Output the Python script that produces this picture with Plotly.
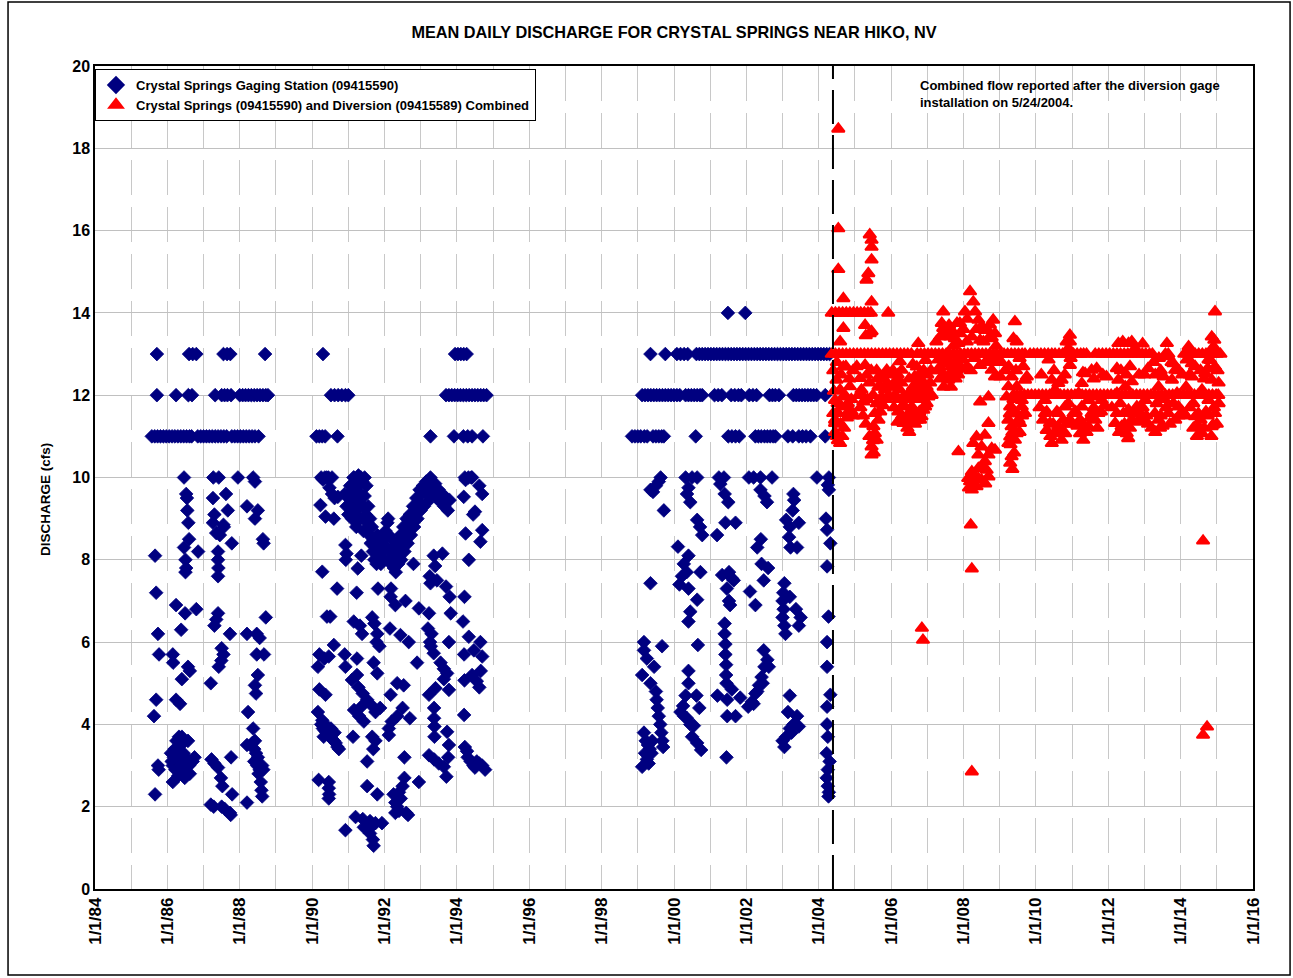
import plotly.graph_objects as go

# ---------------------------------------------------------------------------
# Crystal Springs Gaging Station (09415590) -- decimal year, mean daily cfs
# Days that sat on a steady whole-number discharge are grouped by value.
# ---------------------------------------------------------------------------
gage_at_14 = [2001.49, 2001.97]

gage_at_13 = [1985.71, 1986.60, 1986.70, 1986.80, 1987.55, 1987.65, 1987.74,
              1988.70, 1990.30, 1993.95, 1994.03, 1994.11, 1994.19, 1994.27,
              1999.35, 1999.76, 2000.08, 2000.18, 2000.28, 2000.38, 2000.62,
              2000.70, 2000.78, 2000.86, 2000.94, 2001.02, 2001.10, 2001.18,
              2001.26, 2001.34, 2001.42, 2001.50, 2001.58, 2001.66, 2001.74,
              2001.82, 2001.90, 2001.98, 2002.06, 2002.14, 2002.22, 2002.30,
              2002.38, 2002.46, 2002.54, 2002.62, 2002.70, 2002.78, 2002.86,
              2002.94, 2003.02, 2003.10, 2003.18, 2003.26, 2003.34, 2003.42,
              2003.50, 2003.58, 2003.66, 2003.74, 2003.82, 2003.90, 2003.98,
              2004.06, 2004.14, 2004.22, 2004.30]

gage_at_12 = [1985.71, 1986.24, 1986.58, 1986.68, 1987.32, 1987.50, 1987.58,
              1987.66, 1987.76, 1988.00, 1988.08, 1988.16, 1988.24, 1988.32,
              1988.40, 1988.48, 1988.56, 1988.64, 1988.72, 1988.78, 1990.52,
              1990.62, 1990.72, 1990.82, 1990.92, 1991.00, 1993.70, 1993.78,
              1993.86, 1993.94, 1994.02, 1994.10, 1994.18, 1994.26, 1994.34,
              1994.42, 1994.50, 1994.58, 1994.66, 1994.74, 1994.82, 1999.12,
              1999.20, 1999.28, 1999.36, 1999.44, 1999.52, 1999.60, 1999.68,
              1999.76, 1999.84, 1999.92, 2000.00, 2000.08, 2000.16, 2000.32,
              2000.40, 2000.48, 2000.56, 2000.64, 2000.72, 2000.78, 2001.12,
              2001.22, 2001.32, 2001.58, 2001.68, 2001.78, 2001.86, 2002.08,
              2002.18, 2002.28, 2002.64, 2002.72, 2002.80, 2002.90, 2003.30,
              2003.38, 2003.46, 2003.54, 2003.62, 2003.70, 2003.78, 2003.86,
              2003.94, 2004.18]

gage_at_11 = [1985.57, 1985.65, 1985.73, 1985.81, 1985.89, 1985.97, 1986.05,
              1986.13, 1986.21, 1986.29, 1986.37, 1986.45, 1986.53, 1986.61,
              1986.67, 1986.84, 1986.92, 1987.00, 1987.08, 1987.16, 1987.24,
              1987.32, 1987.40, 1987.48, 1987.56, 1987.64, 1987.78, 1987.86,
              1987.94, 1988.02, 1988.10, 1988.18, 1988.26, 1988.34, 1988.42,
              1988.52, 1990.12, 1990.20, 1990.28, 1990.36, 1990.70, 1993.27,
              1993.92, 1994.18, 1994.30, 1994.42, 1994.72, 1998.84, 1998.92,
              1999.00, 1999.08, 1999.18, 1999.26, 1999.42, 1999.50, 1999.58,
              1999.66, 1999.72, 2000.60, 2001.50, 2001.60, 2001.70, 2001.80,
              2002.25, 2002.33, 2002.41, 2002.50, 2002.58, 2002.66, 2002.74,
              2002.80, 2003.15, 2003.28, 2003.45, 2003.55, 2003.65, 2003.77,
              2004.18]

gage_at_10 = [1986.46, 1987.27, 1987.42, 1987.95, 1988.37, 1990.25, 1990.35,
              1990.45, 1990.55, 1991.15, 1991.25, 1991.35, 1991.45, 1993.27,
              1994.22, 1994.32, 1994.42, 1999.63, 2000.32, 2000.50, 2000.64,
              2001.24, 2001.38, 2002.07, 2002.20, 2002.39, 2002.71, 2003.95,
              2004.28]

# Remaining gage days as (decimal year, cfs)
gage_1985_1988 = [
    (1985.66, 8.1), (1985.69, 7.2), (1985.74, 6.2), (1985.77, 5.7), (1985.69, 4.6),
    (1985.63, 4.2), (1985.74, 3.0), (1985.76, 2.9), (1985.66, 2.3),
    (1986.52, 9.6), (1986.54, 9.5), (1986.55, 9.2), (1986.58, 8.9), (1986.60, 8.5),
    (1986.46, 8.3), (1986.50, 8.0), (1986.52, 7.8), (1986.50, 7.7), (1986.85, 8.2),
    (1986.24, 6.9), (1986.49, 6.7), (1986.80, 6.8), (1986.38, 6.3), (1986.15, 5.7),
    (1986.16, 5.5), (1986.57, 5.4), (1986.62, 5.3), (1986.40, 5.1), (1986.24, 4.6),
    (1986.35, 4.5), (1986.10, 3.3), (1986.12, 3.1), (1986.20, 3.4), (1986.25, 3.6),
    (1986.32, 3.7), (1986.38, 3.5), (1986.45, 3.3), (1986.50, 3.2), (1986.55, 3.1),
    (1986.60, 3.0), (1986.45, 2.9), (1986.38, 2.8), (1986.30, 2.75), (1986.22, 2.9),
    (1986.15, 3.0), (1986.28, 3.1), (1986.40, 3.0), (1986.35, 3.3), (1986.18, 3.2),
    (1986.48, 2.7), (1986.62, 2.8), (1986.70, 3.1), (1986.75, 3.2), (1986.15, 2.6),
    (1986.57, 3.6), (1986.40, 3.7),
    (1987.26, 9.5), (1987.30, 9.1), (1987.62, 9.6), (1987.67, 9.2), (1987.55, 8.85),
    (1987.26, 8.9), (1987.56, 8.8), (1987.35, 8.65), (1987.45, 8.6), (1987.40, 8.2),
    (1987.40, 8.0), (1987.41, 7.8), (1987.40, 7.6), (1987.78, 8.4),
    (1987.40, 6.7), (1987.35, 6.55), (1987.30, 6.4), (1987.73, 6.2), (1987.50, 5.85),
    (1987.55, 5.7), (1987.49, 5.55), (1987.42, 5.4), (1987.20, 5.0),
    (1987.22, 3.15), (1987.30, 3.05), (1987.40, 2.95), (1987.48, 2.7), (1987.52, 2.5),
    (1987.76, 3.2), (1987.79, 2.3), (1987.20, 2.05), (1987.28, 2.0), (1987.50, 2.0),
    (1987.58, 1.95), (1987.73, 1.85), (1987.75, 1.8),
    (1988.20, 9.3), (1988.42, 9.9), (1988.50, 9.2), (1988.42, 9.0),
    (1988.64, 8.5), (1988.66, 8.4), (1988.72, 6.6), (1988.20, 6.2), (1988.47, 6.2),
    (1988.55, 6.1), (1988.47, 5.7), (1988.67, 5.7), (1988.50, 5.2), (1988.42, 4.95),
    (1988.45, 4.75), (1988.23, 4.3), (1988.37, 3.9), (1988.20, 3.5), (1988.42, 3.6),
    (1988.40, 3.4), (1988.45, 3.3), (1988.50, 3.2), (1988.48, 3.0), (1988.55, 2.9),
    (1988.52, 2.8), (1988.58, 2.6), (1988.60, 2.4), (1988.62, 2.25), (1988.40, 3.1),
    (1988.62, 3.0), (1988.65, 2.9), (1988.35, 3.55), (1988.20, 2.1),
]

gage_1990_1994 = [
    (1990.40, 10.0), (1990.30, 9.95), (1990.48, 9.75), (1990.55, 9.6), (1990.62, 9.5),
    (1990.23, 9.33), (1990.37, 9.05), (1990.60, 9.0), (1990.71, 9.53),
    (1990.28, 7.71), (1990.69, 7.3), (1990.41, 6.62), (1990.50, 6.62),
    (1990.20, 5.7), (1990.34, 5.6), (1990.46, 5.65), (1990.16, 5.4), (1990.60, 5.93),
    (1990.20, 4.85), (1990.37, 4.72), (1990.16, 4.3),
    (1990.25, 4.0), (1990.30, 3.9), (1990.35, 3.85), (1990.40, 3.8), (1990.45, 3.75),
    (1990.50, 3.7), (1990.55, 3.65), (1990.60, 3.6), (1990.65, 3.55), (1990.70, 3.45),
    (1990.74, 3.4), (1990.32, 3.7), (1990.42, 3.95), (1990.52, 3.9), (1990.62, 3.8),
    (1990.28, 4.1), (1990.18, 2.65), (1990.46, 2.6), (1990.46, 2.45), (1990.47, 2.3),
    (1990.46, 2.2),
    # the 1991-1993 recession and recovery
    (1990.90, 9.6), (1990.95, 9.3), (1991.00, 9.5), (1991.00, 9.1), (1991.05, 9.8),
    (1991.08, 9.4), (1991.10, 9.0), (1991.12, 9.7), (1991.15, 10.0), (1991.18, 9.5),
    (1991.20, 9.2), (1991.22, 8.8), (1991.25, 9.8), (1991.28, 10.05), (1991.30, 9.4),
    (1991.33, 9.0), (1991.35, 9.6), (1991.38, 9.9), (1991.40, 9.3), (1991.42, 8.7),
    (1991.45, 9.55), (1991.48, 9.1), (1991.50, 9.8), (1991.52, 8.9), (1991.55, 9.3),
    (1991.58, 8.6), (1991.60, 9.0), (1991.62, 8.4), (1991.65, 8.8), (1991.68, 8.2),
    (1991.70, 8.5), (1991.72, 8.0), (1991.75, 8.3), (1991.78, 7.9), (1991.80, 8.6),
    (1991.83, 8.1), (1991.86, 8.4), (1991.90, 7.9), (1991.93, 8.2), (1991.96, 8.5),
    (1992.00, 8.0), (1992.03, 8.7), (1992.06, 8.3), (1992.08, 8.9), (1992.10, 9.0),
    (1992.12, 8.6), (1992.15, 8.2), (1992.18, 7.9), (1992.20, 8.5), (1992.23, 8.1),
    (1992.26, 7.8), (1992.28, 8.3), (1992.31, 7.7), (1992.33, 8.0), (1992.36, 8.4),
    (1992.38, 7.9), (1992.41, 8.2), (1992.44, 8.6), (1992.46, 8.0), (1992.49, 8.4),
    (1992.52, 8.8), (1992.55, 8.2), (1992.58, 8.6), (1992.61, 9.0), (1992.64, 8.4),
    (1992.67, 8.8), (1992.70, 9.1), (1992.73, 8.6), (1992.76, 9.0), (1992.79, 9.3),
    (1992.82, 8.8), (1992.85, 9.2), (1992.88, 9.5), (1992.91, 9.0), (1992.94, 9.4),
    (1992.97, 9.7), (1993.00, 9.2), (1993.03, 9.6), (1993.06, 9.8), (1993.09, 9.3),
    (1993.12, 9.65), (1993.15, 9.9), (1993.18, 9.4), (1993.21, 9.7), (1993.25, 9.55),
    (1993.30, 9.8), (1993.35, 9.6), (1993.40, 9.85), (1993.45, 9.5), (1993.50, 9.7),
    (1993.55, 9.4), (1993.60, 9.6), (1993.65, 9.3), (1993.70, 9.5), (1993.75, 9.2),
    (1993.80, 9.45),
    (1990.92, 8.36), (1990.95, 8.15), (1990.93, 8.0), (1991.36, 8.1), (1991.26, 7.79),
    (1991.23, 7.2), (1991.82, 7.3), (1991.15, 6.5), (1991.32, 6.4), (1991.38, 6.2),
    (1991.66, 6.6), (1991.72, 6.45), (1991.80, 6.2), (1991.78, 6.0), (1991.86, 5.9),
    (1990.90, 5.7), (1990.92, 5.4), (1991.24, 5.6), (1991.70, 5.5), (1991.80, 5.24),
    (1991.10, 5.08), (1991.24, 5.2), (1991.28, 4.9), (1991.40, 4.75), (1991.52, 4.6),
    (1991.38, 4.45), (1991.66, 4.45), (1991.75, 4.3), (1991.88, 4.4), (1991.16, 4.35),
    (1991.30, 4.2), (1991.43, 4.07), (1991.13, 3.7), (1991.66, 3.7), (1991.75, 3.6),
    (1991.69, 3.4), (1991.52, 3.1), (1991.52, 2.5), (1991.80, 2.3),
    (1991.20, 1.75), (1991.40, 1.7), (1991.60, 1.65), (1991.93, 1.6), (1990.92, 1.43),
    (1991.43, 1.5), (1991.60, 1.35), (1991.68, 1.2), (1991.70, 1.05), (1991.62, 1.5),
    (1991.75, 1.6),
    (1992.18, 7.3), (1992.17, 7.1), (1992.30, 6.9), (1992.58, 7.0), (1992.95, 6.82),
    (1993.23, 6.7), (1992.80, 7.9), (1992.15, 6.33), (1992.44, 6.17), (1992.67, 6.0),
    (1992.90, 5.5), (1992.17, 4.72), (1992.35, 5.0), (1992.53, 4.95), (1992.20, 4.07),
    (1992.35, 4.2), (1992.50, 4.4), (1992.70, 4.15), (1992.12, 3.74), (1992.12, 3.9),
    (1992.55, 3.2), (1992.25, 2.3), (1992.30, 2.1), (1992.35, 2.0), (1992.40, 1.9),
    (1992.45, 2.2), (1992.50, 2.5), (1992.55, 2.7), (1992.60, 1.85), (1992.65, 1.8),
    (1992.30, 1.85), (1992.40, 2.35), (1992.95, 2.6),
    (1993.36, 8.1), (1993.60, 8.15), (1993.40, 7.85), (1993.25, 7.6), (1993.45, 7.5),
    (1993.70, 7.35), (1993.80, 7.1), (1993.27, 7.43), (1993.20, 6.33), (1993.30, 6.2),
    (1993.26, 6.0), (1993.28, 5.9), (1993.36, 5.73), (1993.83, 6.7), (1993.78, 6.0),
    (1993.55, 5.5), (1993.64, 5.35), (1993.73, 5.24), (1993.64, 5.1), (1993.78, 4.84),
    (1993.23, 4.72), (1993.41, 4.88), (1993.37, 4.4), (1993.37, 4.15), (1993.38, 3.95),
    (1993.38, 3.7), (1993.73, 3.82), (1993.78, 3.5), (1993.76, 3.2), (1993.23, 3.25),
    (1993.37, 3.15), (1993.50, 3.05), (1993.64, 2.97), (1993.71, 2.73),
    (1994.21, 7.1), (1994.33, 8.0), (1994.24, 8.64), (1994.70, 8.72), (1994.65, 8.44),
    (1994.19, 9.53), (1994.70, 9.6), (1994.50, 9.17), (1994.45, 9.1), (1994.24, 9.94),
    (1994.40, 10.0), (1994.62, 9.8), (1994.17, 6.5), (1994.33, 6.13), (1994.65, 6.0),
    (1994.47, 5.8), (1994.20, 5.7), (1994.70, 5.65), (1994.66, 5.3), (1994.42, 5.2),
    (1994.55, 5.05), (1994.62, 4.9), (1994.21, 5.07), (1994.20, 4.23),
    (1994.22, 3.45), (1994.30, 3.2), (1994.38, 3.1), (1994.46, 3.0), (1994.55, 3.1),
    (1994.62, 3.05), (1994.70, 3.0), (1994.78, 2.9), (1994.28, 3.35), (1994.50, 2.95),
]

gage_1999_2004 = [
    (1999.35, 9.7), (1999.42, 9.65), (1999.50, 9.8), (1999.58, 9.9), (2000.36, 9.6),
    (2000.45, 9.4), (2000.40, 9.75), (2001.28, 9.84), (2001.40, 9.6), (2001.50, 9.4),
    (2002.39, 9.7), (2002.50, 9.55), (2002.57, 9.4), (2003.30, 9.6), (2003.32, 9.45),
    (2003.28, 9.2), (2004.28, 9.7), (1999.72, 9.2), (2004.25, 9.82), (2004.20, 9.0),
    (2000.64, 8.97), (2000.72, 8.8), (2000.78, 8.6), (2001.19, 8.6), (2001.42, 8.9),
    (2001.70, 8.9), (2003.10, 8.97), (2003.20, 8.8), (2003.18, 8.55), (2003.22, 8.3),
    (2003.40, 8.3), (2003.45, 8.9), (2004.23, 8.73), (2004.32, 8.4),
    (2000.11, 8.32), (2000.40, 8.1), (2000.27, 7.9), (2000.35, 7.7), (2000.22, 7.6),
    (2000.15, 7.4), (2000.40, 7.3), (2000.73, 7.7), (1999.35, 7.43), (2000.64, 7.03),
    (2000.45, 6.74), (2000.40, 6.5),
    (2001.33, 7.63), (2001.52, 7.7), (2001.60, 7.55), (2001.65, 7.5), (2001.46, 7.3),
    (2001.52, 7.0), (2001.55, 6.9), (2002.10, 7.23), (2002.25, 6.9), (2002.30, 8.3),
    (2002.40, 8.5), (2002.42, 7.9), (2002.60, 7.8), (2002.48, 7.5),
    (2003.05, 7.43), (2003.02, 7.2), (2003.00, 7.0), (2003.03, 6.8), (2003.00, 6.6),
    (2003.05, 6.4), (2003.08, 6.2), (2003.20, 7.1), (2003.37, 6.8), (2003.45, 6.4),
    (2003.50, 6.6), (2004.23, 7.84), (2004.27, 6.62), (2004.23, 6.0), (2004.23, 5.4),
    (2004.32, 4.72), (2004.23, 4.43), (2004.23, 4.0), (2004.25, 3.7), (2004.22, 3.3),
    (2004.30, 3.1), (2004.25, 2.9), (2004.22, 2.7), (2004.25, 2.5), (2004.28, 2.35),
    (2004.27, 2.25),
    (1999.17, 6.0), (1999.17, 5.8), (1999.25, 5.6), (1999.45, 5.4), (1999.12, 5.2),
    (1999.35, 5.0), (1999.67, 5.9),
    (1999.50, 4.8), (1999.52, 4.6), (1999.55, 4.4), (1999.58, 4.2), (1999.62, 4.0),
    (1999.65, 3.8), (1999.68, 3.6), (1999.70, 3.45),
    (1999.17, 3.8), (1999.22, 3.6), (1999.28, 3.5), (1999.33, 3.4), (1999.38, 3.3),
    (1999.20, 3.3), (1999.25, 3.15), (1999.30, 3.05), (1999.40, 3.6), (1999.12, 2.97),
    (2000.40, 5.3), (2000.40, 5.0), (2000.32, 4.7), (2000.62, 4.7), (2000.25, 4.45),
    (2000.18, 4.3), (2000.36, 4.15), (2000.55, 3.97), (2000.70, 4.4), (2000.50, 3.7),
    (2000.64, 3.55), (2000.75, 3.38), (2000.66, 5.93), (2000.45, 4.0), (2000.28, 4.2),
    (2001.20, 4.7), (2001.47, 4.6), (2001.60, 4.85), (2001.83, 4.65), (2001.70, 4.2),
    (2001.47, 4.2), (2001.45, 3.2),
    (2001.40, 6.45), (2001.40, 6.2), (2001.42, 5.95), (2001.42, 5.7), (2001.44, 5.45),
    (2001.44, 5.2), (2001.45, 5.0),
    (2002.05, 4.43), (2002.15, 4.55), (2002.25, 4.75), (2002.35, 4.95), (2002.42, 5.15),
    (2002.50, 5.4), (2002.58, 5.57), (2002.48, 5.8), (2002.20, 4.5), (2002.30, 4.8),
    (2002.45, 5.0), (2002.62, 5.4),
    (2003.20, 4.7), (2003.15, 4.3), (2003.00, 3.6), (2003.10, 3.7), (2003.20, 3.9),
    (2003.30, 4.0), (2003.40, 4.2), (2003.45, 3.95), (2003.05, 3.45), (2003.25, 3.8),
]

# ---------------------------------------------------------------------------
# Crystal Springs (09415590) + Diversion (09415589) combined, from 5/24/2004
# ---------------------------------------------------------------------------
combined_at_14 = [2004.36, 2004.46, 2004.56, 2004.66, 2004.76, 2004.86, 2004.96,
                  2005.06, 2005.16, 2005.26, 2005.36, 2005.44, 2005.92]

combined_at_13 = [2004.36, 2004.46, 2004.56, 2004.66, 2004.76, 2004.86, 2004.96,
                  2005.06, 2005.16, 2005.26, 2005.36, 2005.46, 2005.56, 2005.66,
                  2005.76, 2005.86, 2005.96, 2006.06, 2006.16, 2006.26, 2006.36,
                  2006.46, 2006.56, 2006.72, 2006.82, 2006.92, 2007.02, 2007.12,
                  2007.22, 2007.32, 2007.42, 2007.52, 2007.62, 2007.72, 2007.82,
                  2007.92, 2008.02, 2008.12, 2008.22, 2008.32, 2008.42, 2008.52,
                  2008.62, 2008.72, 2008.82, 2008.92, 2009.02, 2009.12, 2009.22,
                  2009.32, 2009.42, 2009.52, 2009.62, 2009.70, 2009.84, 2009.94,
                  2010.04, 2010.14, 2010.24, 2010.34, 2010.44, 2010.53, 2010.64,
                  2010.74, 2010.84, 2010.94, 2011.04, 2011.14, 2011.24, 2011.32,
                  2011.40, 2011.64, 2011.74, 2011.84, 2011.94, 2012.04, 2012.14,
                  2012.24, 2012.34, 2012.44, 2012.54, 2012.64, 2012.74, 2012.84,
                  2012.94, 2013.04, 2013.14, 2013.22, 2013.58, 2013.66, 2014.10,
                  2014.20, 2014.30, 2014.40, 2014.50, 2014.60, 2014.70, 2014.80,
                  2014.90, 2015.00, 2015.10]

combined_at_12 = [2009.38, 2009.48, 2009.58, 2009.68, 2009.78, 2009.88, 2009.98,
                  2010.08, 2010.18, 2010.28, 2010.38, 2010.48, 2010.58, 2010.68,
                  2010.78, 2010.88, 2010.98, 2011.08, 2011.18, 2011.28, 2011.38,
                  2011.48, 2011.58, 2011.68, 2011.78, 2011.88, 2011.98, 2012.08,
                  2012.18, 2012.28, 2012.38, 2012.48, 2012.58, 2012.68, 2012.78,
                  2012.88, 2012.98, 2013.08, 2013.18, 2013.28, 2013.38, 2013.48,
                  2013.58, 2013.68, 2013.78, 2013.88, 2013.98, 2014.08, 2014.18,
                  2014.28, 2014.38, 2014.48, 2014.58, 2014.68, 2014.78, 2014.88,
                  2014.98, 2015.04]

combined_2004_2007 = [
    (2004.54, 18.47), (2004.54, 16.05), (2004.54, 15.06),
    (2005.41, 15.9), (2005.46, 15.77), (2005.46, 15.6), (2005.46, 15.29),
    (2005.37, 14.96), (2005.32, 14.8), (2004.68, 14.35), (2005.46, 14.27),
    (2004.68, 13.63), (2005.28, 13.7), (2005.30, 13.45), (2005.41, 13.5),
    (2005.46, 13.55), (2004.59, 13.3),
    (2004.68, 12.69), (2004.49, 12.37), (2004.59, 12.13), (2004.45, 11.88),
    (2004.68, 11.96), (2004.86, 12.21), (2004.40, 11.56), (2004.54, 11.56),
    (2004.63, 11.72), (2004.82, 11.6), (2004.91, 11.6), (2004.45, 11.32),
    (2004.59, 10.83), (2004.53, 10.9), (2004.45, 11.4), (2004.50, 11.0),
    (2004.70, 11.2), (2004.78, 11.45), (2004.95, 11.5),
    (2004.40, 12.6), (2004.50, 12.8), (2004.62, 12.5), (2004.75, 12.7),
    (2004.85, 12.4), (2004.95, 12.6), (2004.42, 12.1), (2004.52, 11.8),
    (2004.72, 12.0), (2004.80, 11.8), (2004.90, 11.9), (2004.45, 11.1),
    (2004.60, 11.3), (2004.65, 11.0),
    (2005.28, 12.73), (2005.32, 12.49), (2005.14, 12.41), (2005.18, 12.13),
    (2005.23, 11.84), (2005.55, 11.56), (2005.65, 11.4), (2005.51, 11.24),
    (2005.55, 11.07), (2005.60, 10.91), (2005.46, 10.75), (2005.46, 10.55),
    (2005.74, 12.45), (2005.88, 12.61), (2005.65, 12.21), (2005.83, 12.13),
    (2005.74, 11.96), (2005.88, 12.29), (2005.92, 11.96), (2005.20, 12.0),
    (2005.50, 12.0), (2005.60, 11.8),
    (2005.05, 12.7), (2005.10, 12.0), (2005.15, 11.7), (2005.22, 11.5),
    (2005.30, 11.3), (2005.35, 11.9), (2005.40, 12.3), (2005.45, 12.6),
    (2005.40, 11.0), (2005.50, 10.9), (2005.52, 10.6), (2005.60, 12.6),
    (2005.70, 12.2), (2005.80, 12.4), (2005.95, 12.5), (2005.70, 11.6),
    (2005.78, 11.75), (2005.62, 12.4), (2005.85, 11.9),
    (2006.24, 12.82), (2006.29, 12.61), (2006.15, 12.37), (2006.24, 12.13),
    (2006.34, 11.96), (2006.38, 11.72), (2006.43, 11.48), (2006.47, 11.32),
    (2006.34, 11.32), (2006.71, 12.69), (2006.80, 12.53), (2006.84, 12.37),
    (2006.94, 12.21), (2007.03, 12.05), (2006.75, 12.13), (2006.66, 11.96),
    (2006.57, 11.72), (2006.61, 11.56), (2006.71, 11.4), (2006.84, 11.48),
    (2006.94, 11.72), (2007.03, 11.96), (2007.12, 12.0), (2006.89, 11.64),
    (2006.80, 11.4), (2006.75, 13.26), (2006.10, 12.0), (2006.20, 11.6),
    (2006.55, 12.1), (2006.66, 11.3), (2006.75, 11.55), (2006.90, 11.9),
    (2006.05, 12.6), (2006.12, 12.2), (2006.20, 11.9), (2006.30, 11.5),
    (2006.40, 11.9), (2006.50, 12.4), (2006.60, 12.2), (2006.70, 11.9),
    (2006.80, 12.0), (2006.90, 12.6), (2007.00, 12.5), (2007.08, 12.3),
    (2006.55, 11.45), (2006.62, 11.35), (2006.78, 11.6), (2006.98, 11.8),
    (2006.45, 11.2), (2006.40, 11.4),
    (2006.00, 12.2), (2006.08, 11.7), (2006.18, 12.5), (2006.28, 12.3),
    (2006.32, 11.75), (2006.45, 12.0), (2006.52, 11.6), (2006.65, 12.45),
    (2006.72, 12.3), (2006.88, 12.1), (2006.98, 12.2), (2007.10, 12.6),
    (2006.60, 12.75), (2006.95, 12.85), (2006.18, 11.35), (2006.50, 11.1),
    (2006.85, 6.34), (2006.88, 6.05),
]

combined_2007_2010 = [
    (2007.44, 14.03), (2007.40, 13.75), (2007.44, 13.63), (2007.35, 13.42),
    (2007.67, 13.58), (2007.63, 13.42), (2007.76, 13.38), (2007.90, 13.5),
    (2007.90, 13.75), (2008.04, 14.03), (2008.18, 14.52), (2008.27, 14.27),
    (2008.32, 14.03), (2008.41, 13.83), (2008.50, 13.67), (2008.59, 13.58),
    (2008.73, 13.71), (2008.82, 13.83), (2008.87, 13.5), (2008.69, 13.38),
    (2008.46, 13.34), (2008.23, 13.42), (2008.09, 13.3), (2007.86, 13.26),
    (2009.42, 13.79), (2009.38, 13.38), (2009.47, 13.3),
    (2007.30, 12.86), (2007.49, 12.77), (2007.67, 12.69), (2007.81, 12.61),
    (2007.95, 12.65), (2007.63, 12.53), (2007.90, 12.86), (2007.35, 12.69),
    (2008.46, 12.73), (2008.73, 12.86), (2008.82, 12.82), (2008.78, 12.61),
    (2007.58, 12.37), (2008.87, 12.45),
    (2007.25, 13.3), (2007.35, 12.4), (2007.45, 12.5), (2007.55, 12.9),
    (2007.65, 12.2), (2007.75, 12.8), (2007.85, 12.5), (2007.95, 12.9),
    (2007.50, 13.5), (2007.60, 13.7), (2007.72, 13.2), (2007.82, 13.75),
    (2007.45, 12.2), (2007.30, 12.6), (2007.78, 12.4),
    (2008.00, 13.6), (2008.10, 13.85), (2008.35, 13.6), (2008.55, 13.3),
    (2008.65, 13.6), (2008.78, 13.4), (2008.90, 13.2), (2008.95, 12.8),
    (2008.60, 12.8), (2008.30, 12.9), (2008.10, 12.7), (2008.20, 12.6),
    (2008.46, 11.84), (2008.69, 11.96), (2008.69, 11.32), (2007.86, 10.63),
    (2008.36, 10.99), (2008.59, 11.03), (2008.27, 10.83), (2008.50, 10.75),
    (2008.78, 10.71), (2008.87, 10.67), (2008.41, 10.55), (2008.69, 10.55),
    (2008.59, 10.39), (2008.55, 10.26), (2008.41, 10.22), (2008.23, 10.14),
    (2008.13, 9.98), (2008.27, 9.86), (2008.50, 9.94), (2008.69, 10.02),
    (2008.36, 9.78), (2008.23, 9.7), (2008.18, 9.9), (2008.32, 10.02),
    (2008.64, 10.18), (2008.41, 9.98), (2008.60, 9.85), (2008.15, 9.75),
    (2008.20, 8.85), (2008.23, 7.78), (2008.23, 2.85),
    (2009.33, 12.45), (2009.24, 12.21), (2009.19, 11.96), (2009.29, 11.72),
    (2009.24, 11.4), (2009.33, 11.24), (2009.29, 10.99), (2009.24, 10.83),
    (2009.33, 10.51), (2009.29, 10.35), (2009.38, 11.64), (2009.47, 11.56),
    (2009.52, 11.4), (2009.61, 11.72), (2009.70, 12.37), (2009.75, 12.45),
    (2009.47, 12.21), (2009.61, 11.88), (2009.70, 11.56), (2009.56, 11.32),
    (2009.47, 11.07), (2009.42, 10.91), (2009.01, 12.45), (2009.35, 10.2),
    (2009.05, 12.8), (2009.15, 12.6), (2009.25, 12.7), (2009.45, 12.6),
    (2009.55, 12.9), (2009.65, 12.7), (2009.38, 11.9), (2009.28, 11.55),
    (2009.35, 11.1), (2009.55, 11.1), (2009.62, 11.5), (2009.40, 10.6),
    (2009.30, 10.8),
]

combined_2010_2015 = [
    (2010.35, 12.86), (2010.94, 13.46), (2010.94, 13.3), (2010.90, 13.14),
    (2010.94, 12.73), (2010.44, 12.37), (2010.62, 12.29), (2010.71, 12.37),
    (2010.53, 12.13), (2010.25, 11.88), (2010.25, 11.56), (2010.39, 11.32),
    (2010.53, 11.07), (2010.44, 10.83), (2010.62, 11.56), (2010.81, 11.72),
    (2010.94, 11.4), (2011.04, 11.56), (2010.62, 11.24), (2010.30, 11.15),
    (2010.81, 11.07), (2010.71, 10.91),
    (2010.10, 11.7), (2010.20, 11.4), (2010.30, 11.6), (2010.40, 11.0),
    (2010.48, 11.3), (2010.58, 11.6), (2010.68, 11.1), (2010.75, 11.4),
    (2010.85, 11.3), (2010.90, 11.8), (2011.00, 11.3), (2010.15, 12.5),
    (2010.50, 12.6), (2010.80, 12.5), (2010.96, 12.9), (2010.85, 13.3),
    (2011.36, 12.53), (2011.54, 12.61), (2011.68, 12.65), (2011.27, 12.29),
    (2011.18, 12.05), (2011.27, 11.72), (2011.22, 11.4), (2011.22, 11.07),
    (2011.31, 10.91), (2011.45, 11.24), (2011.54, 11.56), (2011.64, 11.4),
    (2011.45, 11.88), (2011.68, 11.96), (2011.82, 11.88), (2011.73, 11.56),
    (2011.10, 11.6), (2011.15, 11.25), (2011.30, 11.3), (2011.40, 11.1),
    (2011.50, 11.45), (2011.60, 11.7), (2011.70, 11.2), (2011.80, 11.6),
    (2011.90, 11.75), (2011.30, 12.55), (2011.60, 12.4), (2011.85, 12.5),
    (2011.95, 12.45),
    (2012.28, 13.26), (2012.24, 12.65),
    (2012.56, 13.26), (2012.74, 13.14), (2012.28, 12.37), (2012.47, 12.21),
    (2012.65, 12.33), (2012.24, 12.05), (2012.33, 11.8), (2012.42, 11.56),
    (2012.37, 11.24), (2012.51, 11.07), (2012.65, 11.4), (2012.79, 11.72),
    (2012.88, 11.56), (2012.93, 11.4), (2013.02, 11.88), (2012.56, 11.64),
    (2012.24, 11.56), (2012.19, 11.32),
    (2012.10, 11.7), (2012.30, 11.1), (2012.45, 11.3), (2012.55, 10.95),
    (2012.60, 11.2), (2012.70, 11.55), (2012.80, 11.35), (2012.95, 11.7),
    (2013.05, 11.5), (2013.10, 11.3), (2012.35, 12.6), (2012.50, 12.5),
    (2012.60, 12.7), (2012.85, 12.5), (2013.00, 12.5), (2013.10, 12.65),
    (2012.40, 13.3), (2012.65, 13.3), (2012.95, 13.25),
    (2013.62, 13.26), (2013.66, 12.94), (2013.80, 12.77), (2013.85, 12.61),
    (2013.53, 12.45), (2013.39, 12.21), (2013.34, 11.8), (2013.39, 11.4),
    (2013.43, 11.2), (2013.29, 11.56), (2013.76, 12.37), (2013.90, 12.05),
    (2013.94, 11.72), (2013.66, 11.56), (2014.22, 13.18), (2014.17, 12.86),
    (2013.80, 11.8), (2013.55, 11.9),
    (2013.20, 11.2), (2013.30, 11.1), (2013.45, 11.5), (2013.50, 11.25),
    (2013.60, 11.7), (2013.70, 11.3), (2013.85, 11.4), (2013.95, 11.5),
    (2014.05, 11.6), (2013.30, 12.5), (2013.45, 12.6), (2013.75, 12.8),
    (2013.95, 12.6), (2014.05, 12.5), (2013.40, 12.9), (2013.25, 12.8),
    (2014.86, 13.42), (2014.91, 13.18), (2014.77, 12.86), (2014.95, 12.69),
    (2014.68, 12.53), (2014.86, 12.37), (2014.59, 12.13), (2014.31, 12.45),
    (2014.35, 11.8), (2014.40, 11.48), (2014.49, 11.24), (2014.59, 11.07),
    (2014.86, 11.24), (2014.95, 11.56), (2015.05, 11.8), (2014.77, 11.88),
    (2014.31, 12.77), (2014.49, 11.56), (2014.95, 14.03), (2014.93, 13.34),
    (2014.90, 11.28), (2014.70, 11.6),
    (2014.15, 11.5), (2014.25, 11.7), (2014.35, 11.2), (2014.45, 11.0),
    (2014.55, 11.4), (2014.65, 11.2), (2014.75, 11.5), (2014.85, 11.0),
    (2014.92, 11.7), (2015.00, 11.3), (2014.40, 12.7), (2014.55, 12.6),
    (2014.65, 12.4), (2014.75, 12.65), (2014.82, 12.85), (2015.02, 12.6),
    (2014.88, 13.0), (2015.05, 12.3), (2014.25, 12.5), (2014.15, 12.2),
    (2014.62, 8.46), (2014.73, 3.94), (2014.62, 3.74),
]

# x-axis tick labels, one per year (labelled every other year)
tick_years = list(range(1984, 2017))
tick_text = ["1/1/84", "", "1/1/86", "", "1/1/88", "", "1/1/90", "", "1/1/92", "",
             "1/1/94", "", "1/1/96", "", "1/1/98", "", "1/1/00", "", "1/1/02", "",
             "1/1/04", "", "1/1/06", "", "1/1/08", "", "1/1/10", "", "1/1/12", "",
             "1/1/14", "", "1/1/16"]

diversion_install = 2004.393  # 5/24/2004

# ---------------------------------------------------------------------------
def gather(rows, scattered):
    xs, ys = [], []
    for value, years in rows:
        xs += years
        ys += [value] * len(years)
    for block in scattered:
        xs += [p[0] for p in block]
        ys += [p[1] for p in block]
    return xs, ys


gage_x, gage_y = gather(
    [(14, gage_at_14), (13, gage_at_13), (12, gage_at_12), (11, gage_at_11), (10, gage_at_10)],
    [gage_1985_1988, gage_1990_1994, gage_1999_2004],
)
comb_x, comb_y = gather(
    [(14, combined_at_14), (13, combined_at_13), (12, combined_at_12)],
    [combined_2004_2007, combined_2007_2010, combined_2010_2015],
)

FONT = "Liberation Sans, Arial, sans-serif"

fig = go.Figure()
fig.add_trace(go.Scatter(
    x=gage_x, y=gage_y, mode="markers",
    name="Crystal Springs Gaging Station (09415590)",
    marker=dict(symbol="diamond", size=10.5, color="#000080",
                line=dict(width=0.8, color="#000080")),
))
fig.add_trace(go.Scatter(
    x=comb_x, y=comb_y, mode="markers",
    name="Crystal Springs (09415590) and Diversion (09415589) Combined",
    marker=dict(symbol="triangle-up", size=11, color="#FF0000",
                line=dict(width=2, color="#FF0000")),
))

# installation date of the diversion gage
fig.add_shape(type="line", xref="x", yref="y",
              x0=diversion_install, x1=diversion_install, y0=0, y1=20,
              line=dict(color="black", width=2, dash="34px,11px"), layer="above")

# frame around the whole graphic
fig.add_shape(type="rect", xref="paper", yref="paper",
              x0=-0.0751, x1=1.0320, y0=-0.1045, y1=1.0778,
              line=dict(color="black", width=1.5), fillcolor="rgba(0,0,0,0)")

fig.add_annotation(
    xref="paper", yref="paper", x=0.7107, y=0.9879, xanchor="left", yanchor="top",
    align="left", showarrow=False,
    text="Combined flow reported after the diversion gage<br>installation on 5/24/2004.",
    font=dict(family=FONT, size=13, color="black", weight="bold"),
)
fig.add_annotation(
    xref="paper", yref="paper", x=-0.0423, y=0.4727, xanchor="center", yanchor="middle",
    textangle=-90, showarrow=False, text="DISCHARGE (cfs)",
    font=dict(family=FONT, size=13.5, color="black", weight="bold"),
)

fig.update_layout(
    width=1293, height=978,
    margin=dict(l=95, r=40, t=66, b=89),
    paper_bgcolor="white", plot_bgcolor="white",
    title=dict(text="MEAN DAILY DISCHARGE FOR CRYSTAL SPRINGS NEAR HIKO, NV",
               x=0.5213, xanchor="center", y=1 - 32 / 978, yanchor="middle",
               font=dict(family=FONT, size=16.3, color="black", weight="bold")),
    showlegend=True,
    legend=dict(x=0.0, y=0.9964, xanchor="left", yanchor="top",
                bgcolor="white", bordercolor="black", borderwidth=1,
                font=dict(family=FONT, size=13, color="black", weight="bold"),
                itemsizing="constant"),
    xaxis=dict(range=[1984, 2016], tickmode="array", tickvals=tick_years,
               ticktext=tick_text, tickangle=-90, ticks="",
               showgrid=True, gridcolor="#c8c8c8", gridwidth=1, griddash="35px,12px",
               showline=True, linecolor="black", linewidth=1.5, mirror=True,
               zeroline=False,
               tickfont=dict(family=FONT, size=17, color="black", weight="bold")),
    yaxis=dict(range=[0, 20], tickmode="linear", tick0=0, dtick=2, ticks="",
               showgrid=True, gridcolor="#c0c0c0", gridwidth=1,
               showline=True, linecolor="black", linewidth=1.5, mirror=True,
               zeroline=False,
               tickfont=dict(family=FONT, size=16, color="black", weight="bold")),
)

fig.write_html("out.html")
